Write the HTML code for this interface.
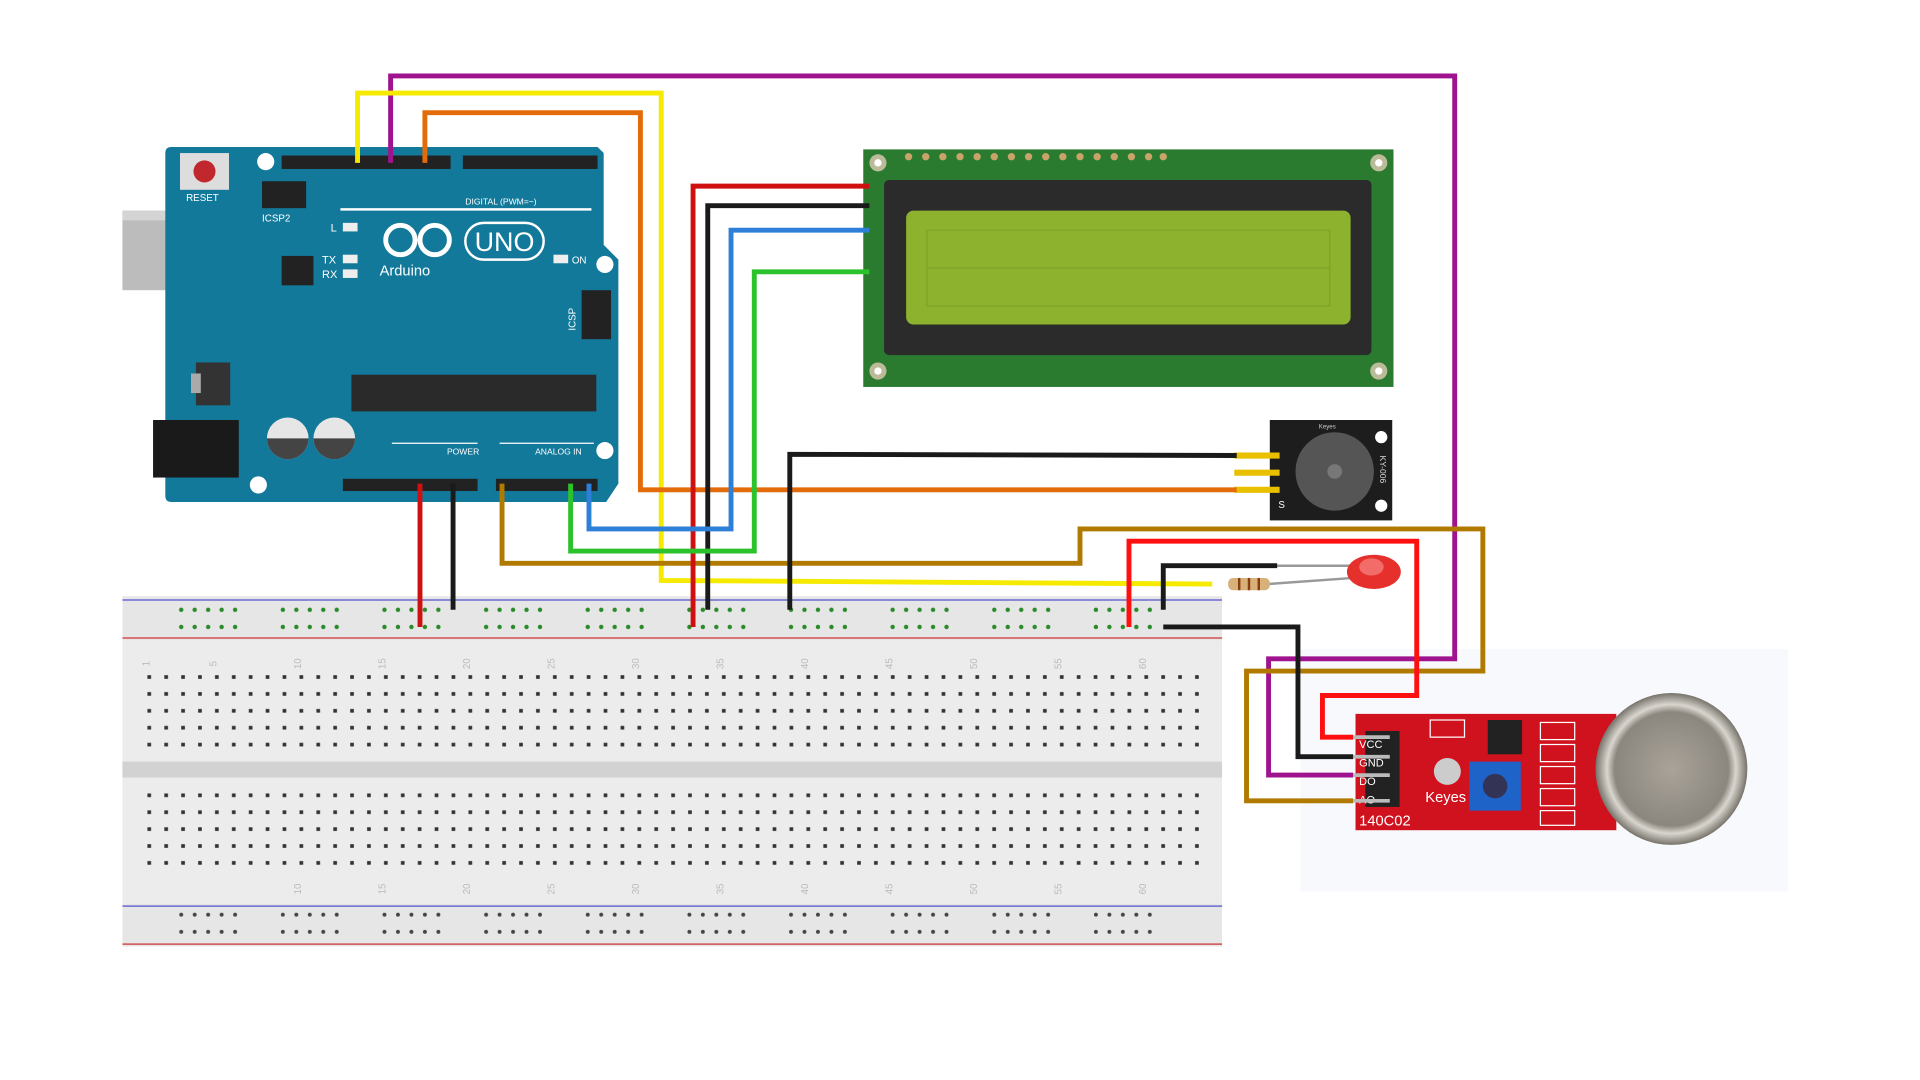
<!DOCTYPE html>
<html><head><meta charset="utf-8"><style>html,body{margin:0;padding:0;background:#fff}svg{display:block}</style></head>
<body>
<svg width="1920" height="1080" viewBox="0 0 1568 882" xmlns="http://www.w3.org/2000/svg" font-family="Liberation Sans, sans-serif">
<defs>
<pattern id="mdot" x="115" y="546" width="13.8" height="13.8" patternUnits="userSpaceOnUse"><rect x="5.4" y="5.4" width="3" height="3" fill="#333"/></pattern>
<pattern id="rdot" x="144" y="494" width="83" height="14" patternUnits="userSpaceOnUse">
<g fill="#2a8a2a"><circle cx="4" cy="4" r="1.8"/><circle cx="15" cy="4" r="1.8"/><circle cx="26" cy="4" r="1.8"/><circle cx="37" cy="4" r="1.8"/><circle cx="48" cy="4" r="1.8"/></g></pattern>
<pattern id="bdot" x="144" y="743" width="83" height="14" patternUnits="userSpaceOnUse">
<g fill="#444"><circle cx="4" cy="4" r="1.6"/><circle cx="15" cy="4" r="1.6"/><circle cx="26" cy="4" r="1.6"/><circle cx="37" cy="4" r="1.6"/><circle cx="48" cy="4" r="1.6"/></g></pattern>
<radialGradient id="can"><stop offset="0" stop-color="#a9a39a"/><stop offset="0.75" stop-color="#8c877e"/><stop offset="0.85" stop-color="#d9d6cf"/><stop offset="1" stop-color="#77736b"/></radialGradient>
</defs>

<!-- breadboard -->
<rect x="100" y="487" width="898" height="286" fill="#e6e6e6"/>
<rect x="100" y="523" width="898" height="215" fill="#ececec"/>
<rect x="100" y="622" width="898" height="13" fill="#d2d2d2"/>
<line x1="100" y1="490" x2="998" y2="490" stroke="#6a6ad0" stroke-width="1.2"/>
<line x1="100" y1="521" x2="998" y2="521" stroke="#d05050" stroke-width="1.2"/>
<line x1="100" y1="740" x2="998" y2="740" stroke="#6a6ad0" stroke-width="1.2"/>
<line x1="100" y1="771" x2="998" y2="771" stroke="#d05050" stroke-width="1.2"/>
<rect x="144" y="494" width="815" height="24" fill="url(#rdot)"/>
<rect x="144" y="743" width="815" height="24" fill="url(#bdot)"/>
<rect x="115" y="546" width="870" height="69" fill="url(#mdot)"/>
<rect x="115" y="643" width="870" height="69" fill="url(#mdot)"/>
<g fill="#bbb" font-size="8" text-anchor="middle">
<text x="122" y="542" transform="rotate(-90 122 542)">1</text>
<text x="177" y="542" transform="rotate(-90 177 542)">5</text>
<text x="246" y="542" transform="rotate(-90 246 542)">10</text><text x="315" y="542" transform="rotate(-90 315 542)">15</text><text x="384" y="542" transform="rotate(-90 384 542)">20</text><text x="453" y="542" transform="rotate(-90 453 542)">25</text><text x="522" y="542" transform="rotate(-90 522 542)">30</text><text x="591" y="542" transform="rotate(-90 591 542)">35</text><text x="660" y="542" transform="rotate(-90 660 542)">40</text><text x="729" y="542" transform="rotate(-90 729 542)">45</text><text x="798" y="542" transform="rotate(-90 798 542)">50</text><text x="867" y="542" transform="rotate(-90 867 542)">55</text><text x="936" y="542" transform="rotate(-90 936 542)">60</text>
<text x="246" y="726" transform="rotate(-90 246 726)">10</text><text x="315" y="726" transform="rotate(-90 315 726)">15</text><text x="384" y="726" transform="rotate(-90 384 726)">20</text><text x="453" y="726" transform="rotate(-90 453 726)">25</text><text x="522" y="726" transform="rotate(-90 522 726)">30</text><text x="591" y="726" transform="rotate(-90 591 726)">35</text><text x="660" y="726" transform="rotate(-90 660 726)">40</text><text x="729" y="726" transform="rotate(-90 729 726)">45</text><text x="798" y="726" transform="rotate(-90 798 726)">50</text><text x="867" y="726" transform="rotate(-90 867 726)">55</text><text x="936" y="726" transform="rotate(-90 936 726)">60</text>
</g>

<!-- Arduino -->
<rect x="100" y="172" width="85" height="65" fill="#bcbcbc"/>
<rect x="100" y="172" width="85" height="8" fill="#d4d4d4"/>
<path d="M140 120 H488 L493 125 V200 L505 212 V395 L495 410 H140 Q135 410 135 405 V125 Q135 120 140 120Z" fill="#13799b"/>
<rect x="125" y="343" width="70" height="47" fill="#1a1a1a"/>
<rect x="147" y="125" width="40" height="30" fill="#ddd"/><circle cx="167" cy="140" r="9" fill="#c0282e"/>
<text x="152" y="164" font-size="8" fill="#fff">RESET</text>
<circle cx="217" cy="132" r="7" fill="#fff"/><circle cx="494" cy="216" r="7" fill="#fff"/><circle cx="494" cy="368" r="7" fill="#fff"/><circle cx="211" cy="396" r="7" fill="#fff"/>
<rect x="214" y="148" width="36" height="22" fill="#222"/><text x="214" y="181" font-size="8" fill="#fff">ICSP2</text>
<rect x="230" y="127" width="138" height="11" fill="#222"/><rect x="378" y="127" width="110" height="11" fill="#222"/>
<rect x="278" y="170" width="205" height="2" fill="#fff"/>
<text x="380" y="167" font-size="7" fill="#fff">DIGITAL (PWM=~)</text>
<rect x="230" y="209" width="26" height="24" fill="#222"/>
<rect x="280" y="182" width="12" height="7" fill="#eee"/><text x="270" y="189" font-size="9" fill="#fff">L</text>
<rect x="280" y="208" width="12" height="7" fill="#eee"/><text x="263" y="215" font-size="9" fill="#fff">TX</text>
<rect x="280" y="220" width="12" height="7" fill="#eee"/><text x="263" y="227" font-size="9" fill="#fff">RX</text>
<g fill="none" stroke="#fff" stroke-width="4"><circle cx="327" cy="196" r="12"/><circle cx="355" cy="196" r="12"/></g>
<rect x="380" y="182" width="64" height="30" rx="15" fill="none" stroke="#fff" stroke-width="2"/>
<text x="412" y="205" font-size="22" fill="#fff" text-anchor="middle">UNO</text>
<text x="310" y="225" font-size="12" fill="#fff">Arduino</text>
<rect x="452" y="208" width="12" height="7" fill="#eee"/><text x="467" y="215" font-size="8" fill="#fff">ON</text>
<rect x="475" y="237" width="24" height="40" fill="#222"/><text x="470" y="270" font-size="8" fill="#fff" transform="rotate(-90 470 270)">ICSP</text>
<rect x="160" y="296" width="28" height="35" fill="#333"/><rect x="156" y="305" width="8" height="16" fill="#aaa"/>
<rect x="287" y="306" width="200" height="30" fill="#2a2a2a"/>
<circle cx="235" cy="358" r="17" fill="#e6e6e6"/><circle cx="273" cy="358" r="17" fill="#e6e6e6"/>
<path d="M218 358 a17 17 0 0 0 34 0Z" fill="#444"/><path d="M256 358 a17 17 0 0 0 34 0Z" fill="#444"/>
<rect x="280" y="391" width="110" height="10" fill="#222"/><rect x="405" y="391" width="83" height="10" fill="#222"/>
<line x1="320" y1="362" x2="390" y2="362" stroke="#fff"/><line x1="408" y1="362" x2="485" y2="362" stroke="#fff"/>
<text x="365" y="371" font-size="7" fill="#fff">POWER</text><text x="437" y="371" font-size="7" fill="#fff">ANALOG IN</text>

<!-- LCD -->
<rect x="705" y="122" width="433" height="194" fill="#2a7a30"/>
<g fill="#bb9"><circle cx="717" cy="133" r="7"/><circle cx="1126" cy="133" r="7"/><circle cx="717" cy="303" r="7"/><circle cx="1126" cy="303" r="7"/></g>
<g fill="#fff"><circle cx="717" cy="133" r="3"/><circle cx="1126" cy="133" r="3"/><circle cx="717" cy="303" r="3"/><circle cx="1126" cy="303" r="3"/></g>
<g fill="#c9a46a"><circle cx="742" cy="128" r="3"/><circle cx="756" cy="128" r="3"/><circle cx="770" cy="128" r="3"/><circle cx="784" cy="128" r="3"/><circle cx="798" cy="128" r="3"/><circle cx="812" cy="128" r="3"/><circle cx="826" cy="128" r="3"/><circle cx="840" cy="128" r="3"/><circle cx="854" cy="128" r="3"/><circle cx="868" cy="128" r="3"/><circle cx="882" cy="128" r="3"/><circle cx="896" cy="128" r="3"/><circle cx="910" cy="128" r="3"/><circle cx="924" cy="128" r="3"/><circle cx="938" cy="128" r="3"/><circle cx="950" cy="128" r="3"/></g>
<rect x="722" y="147" width="398" height="143" rx="4" fill="#2b2b2b"/>
<rect x="740" y="172" width="363" height="93" rx="6" fill="#8db32e"/>
<rect x="757" y="188" width="329" height="62" fill="none" stroke="#7da228" stroke-width="1"/>
<line x1="757" y1="219" x2="1086" y2="219" stroke="#7da228"/>

<!-- buzzer -->
<rect x="1037" y="343" width="100" height="82" fill="#1d1d1d"/>
<circle cx="1090" cy="385" r="32" fill="#555"/><circle cx="1090" cy="385" r="6" fill="#777"/>
<circle cx="1128" cy="357" r="5" fill="#fff"/><circle cx="1128" cy="413" r="5" fill="#fff"/>
<text x="1077" y="350" font-size="5" fill="#ccc">Keyes</text>
<text x="1127" y="372" font-size="7" fill="#ddd" transform="rotate(90 1127 372)">KY-006</text>
<text x="1044" y="415" font-size="8" fill="#fff">S</text>
<g stroke="#e8c000" stroke-width="5"><line x1="1008" y1="372" x2="1045" y2="372"/><line x1="1008" y1="386" x2="1045" y2="386"/><line x1="1008" y1="400" x2="1045" y2="400"/></g>

<!-- gas sensor -->
<rect x="1062" y="530" width="398" height="198" fill="#f7f9fd"/>
<rect x="1107" y="583" width="213" height="95" fill="#d0121f"/>
<rect x="1115" y="597" width="28" height="62" fill="#222"/>
<g fill="#fff" font-size="9"><text x="1110" y="611">VCC</text><text x="1110" y="626">GND</text><text x="1110" y="641">DO</text><text x="1110" y="656">AO</text><text x="1110" y="674" font-size="12">140C02</text><text x="1164" y="655" font-size="12">Keyes</text></g>
<circle cx="1182" cy="630" r="11" fill="#ccc"/>
<rect x="1200" y="622" width="42" height="40" fill="#1d63c8"/><circle cx="1221" cy="642" r="10" fill="#335"/>
<rect x="1215" y="588" width="28" height="28" fill="#222"/>
<g fill="none" stroke="#fff"><rect x="1168" y="588" width="28" height="14"/><rect x="1258" y="590" width="28" height="14"/><rect x="1258" y="608" width="28" height="14"/><rect x="1258" y="626" width="28" height="14"/><rect x="1258" y="644" width="28" height="14"/><rect x="1258" y="662" width="28" height="12"/></g>
<circle cx="1365" cy="628" r="62" fill="url(#can)"/>
<g stroke="#bbb" stroke-width="3"><line x1="1100" y1="602" x2="1135" y2="602"/><line x1="1100" y1="618" x2="1135" y2="618"/><line x1="1100" y1="633" x2="1135" y2="633"/><line x1="1100" y1="654" x2="1135" y2="654"/></g>

<!-- LED & resistor -->
<line x1="1040" y1="462" x2="1110" y2="462" stroke="#999" stroke-width="2"/>
<line x1="1035" y1="477" x2="1105" y2="472" stroke="#999" stroke-width="2"/>
<rect x="1003" y="472" width="34" height="10" rx="4" fill="#d8b07a"/>
<g stroke="#8a3d10" stroke-width="2"><line x1="1012" y1="472" x2="1012" y2="482"/><line x1="1020" y1="472" x2="1020" y2="482"/><line x1="1028" y1="472" x2="1028" y2="482"/></g>
<ellipse cx="1122" cy="467" rx="22" ry="14" fill="#e5302c"/><ellipse cx="1120" cy="463" rx="10" ry="7" fill="#f26d6a"/>

<!-- wires -->
<g fill="none" stroke-width="4" stroke-linejoin="miter">
<polyline stroke="#a0138e" points="319,133 319,62 1188,62 1188,538 1036,538 1036,633 1105,633"/>
<polyline stroke="#f5ea00" points="292,133 292,76 540,76 540,474 990,477"/>
<polyline stroke="#e36b0a" points="347,133 347,92 523,92 523,400 1010,400"/>
<polyline stroke="#b07a00" points="410,395 410,460 882,460 882,432 1211,432 1211,548 1018,548 1018,654 1105,654"/>
<polyline stroke="#d01010" points="710,152 566,152 566,512"/>
<polyline stroke="#1a1a1a" points="710,168 578,168 578,498"/>
<polyline stroke="#2e7fd8" points="710,188 597,188 597,432 481,432 481,395"/>
<polyline stroke="#2cc22c" points="710,222 616,222 616,450 466,450 466,395"/>
<polyline stroke="#1a1a1a" points="645,498 645,371 1010,372"/>
<polyline stroke="#d01010" points="343,395 343,512"/>
<polyline stroke="#1a1a1a" points="370,395 370,498"/>
<polyline stroke="#ff1010" points="922,512 922,442 1157,442 1157,568 1080,568 1080,602 1105,602"/>
<polyline stroke="#1a1a1a" points="950,498 950,462 1043,462"/>
<polyline stroke="#1a1a1a" points="950,512 1060,512 1060,618 1105,618"/>
</g>
</svg>
</body></html>
